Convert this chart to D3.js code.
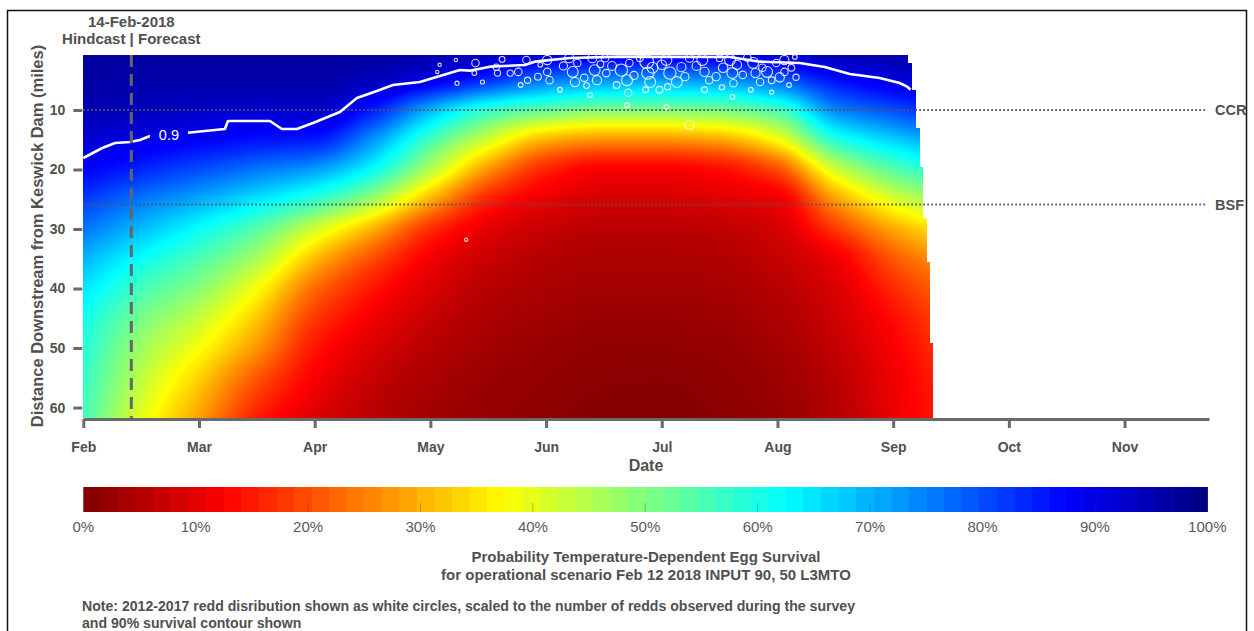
<!DOCTYPE html>
<html><head><meta charset="utf-8">
<script src="https://cdn.jsdelivr.net/npm/d3@7"></script>
<style>
body{margin:0;background:#fff}
svg{display:block}
text{font-family:"Liberation Sans",Arial,Helvetica,sans-serif}
</style>
</head><body>
<svg id="chart" width="1254" height="631"></svg>
<script>
// ---------------- DATA ----------------
const monthLabels = ["Feb","Mar","Apr","May","Jun","Jul","Aug","Sep","Oct","Nov"];
const monthTicks = [0,1,2,3,4,5,6,7,8,9];          // month index, Feb = 0
const mileTicks = [10,20,30,40,50,60];
const colorTicks = [0,10,20,30,40,50,60,70,80,90,100];

// survival grid (%) : one row per gridMonths entry, values along gridMiles
const gridMonths = [0,0.5,1,1.5,2,2.5,3,3.5,4,4.5,5,5.5,6,6.5,7,7.5];
const gridMiles  = [0.8,5,10,15,20,25,30,35,40,45,50,55,62];
const survivalGrid = [
  [97,96.5,95,92,88,82,76,70,65,61,59,57.5,56],
  [97,96,94,90,84,76,69,62,56,51,47,44,40],
  [97,96,93,88,80,71,62,55,49,43,38,33,28],
  [97,96,92,86,76,65,54,46,38,32,27,21,15],
  [97,96,92.5,85,72,58,42,31,23,18,14.5,12,9],
  [97,94,85,73,62,47,30,20,14.5,11.5,9,7,5.5],
  [96,89.5,70,56,45,30,17,11.5,9,7,5.5,4.2,3.2],
  [94,83,58,42,27,16,10,7.2,5.5,4.3,3.4,2.7,2],
  [92,76,53,30,16,10.5,7,5.2,4.2,3.3,2.4,1.8,1.2],
  [91,73,50,27,12,8.5,5.8,4.5,3.5,2.6,1.8,1.2,0.7],
  [91,72,50,27,12,8.5,5.8,4.5,3.5,2.6,1.8,1.1,0.6],
  [91,73,51,29,13.5,9.5,6.3,4.9,3.8,2.9,2.2,1.6,1.1],
  [92,78,56,38,20,11,8.5,6.8,5.5,4.5,3.6,2.9,2.2],
  [95,86,74,59,42,28,18,11,9,7.8,6.6,5.7,5],
  [96,90.3,80,67,54,41,29,21,16.5,13.5,12,11,10.5],
  [97,93,85,73,61,49,37,29,23.5,20.5,18.5,17,16]
];
const riverTopMile = 0.76, riverBottomMile = 61.76;
// end of the modelled season, by distance band
const edgeMiles  = [0.76,2.1,6.6,13.0,19.6,28.2,35.5,49.2,61.76];
const edgeMonths = [7.125,7.16,7.194,7.229,7.255,7.29,7.315,7.341];

// 90% survival contour [month index, mile]
const contour90 = [
  [0,18.07],[0.164,16.39],[0.274,15.55],[0.403,15.38],[0.49,15.04],[0.576,14.37],
  [0.879,13.87],[1.224,13.19],[1.25,11.85],[1.613,11.85],[1.717,13.19],[1.846,13.19],
  [1.985,12.2],[2.218,10.34],[2.365,7.98],[2.537,6.81],[2.676,5.8],[2.909,5.29],
  [3.255,3.28],[3.34,3.39],[3.514,2.72],[3.817,2.44],[3.903,1.88],[4.205,1.26],
  [4.637,1.04],[5.587,1.09],[5.847,1.88],[6.193,2.1],[6.409,2.77],[6.625,3.95],
  [6.884,4.62],[7.056,5.46],[7.125,6.13],[7.15,6.6]
];
const contourLabel = {text:"0.9", month:0.74, mile:14.1};

// redd observations 2012-2017 [month index, mile, redds]
const reddObs = [
  [3.23,5.5,3],[3.39,2.1,10],[3.38,3.8,4],[3.45,5.3,3],[3.57,2.8,7],[3.58,3.8,7],
  [3.69,3.8,7],[3.76,3.6,10],[3.83,1.6,10],[3.84,5.0,7],[4.01,1.6,15],[4.01,3.6,10],
  [4.03,5.0,10],[4.20,1.3,15],[4.23,3.6,21],[4.25,5.3,15],[4.27,2.1,10],[4.40,1.3,15],
  [4.42,3.3,21],[4.44,5.0,15],[4.51,1.3,10],[4.52,3.8,10],[4.65,3.3,27],[4.70,5.0,21],
  [4.72,2.1,10],[4.71,7.1,10],[4.87,1.9,34],[4.88,3.8,27],[4.90,5.3,21],[4.92,2.9,21],
  [5.04,1.6,21],[5.07,3.8,27],[5.13,5.3,21],[5.17,2.8,15],[5.05,6.1,7],[5.24,12.5,15],
  [5.35,1.6,21],[5.37,3.6,15],[5.41,5.0,10],[5.59,1.6,21],[5.61,3.8,21],[5.62,5.5,10],
  [5.65,2.4,15],[5.70,4.1,10],[5.79,2.1,21],[5.81,3.8,15],[5.85,5.3,10],[5.87,2.9,10],
  [5.91,3.6,21],[5.99,2.1,10],[6.02,4.5,15],[6.06,1.6,15],[6.06,3.6,10],[6.15,1.1,4],
  [6.16,4.5,7],[6.10,5.8,4],[5.61,7.8,4],[5.04,9.5,4],[4.70,9.2,4],[3.95,2.4,4],
  [4.12,6.6,4],[4.38,7.5,4],[5.37,6.6,6],[5.77,6.6,4],[3.78,5.8,4],[3.22,1.6,2],
  [3.06,3.6,2],[4.47,2.3,8],[4.81,1.3,8],[5.24,1.3,12],[5.50,1.3,8],[4.61,5.8,8],
  [4.98,6.6,8],[3.31,31.8,2],[3.08,2.4,2],
  [3.62,1.5,6],[3.93,4.4,8],[4.15,2.6,12],[4.33,4.6,10],[4.57,2.6,14],[4.76,4.2,12],
  [5.00,2.4,16],[5.20,4.4,12],[5.30,2.6,14],[5.47,4.4,12],[5.53,2.9,16],[5.74,1.2,10],
  [5.95,5.0,8],[6.12,2.9,8],[4.35,5.9,6],[4.86,6.6,6],[5.52,6.2,5],[5.95,7.0,3]
];
const refLineNames = ["CCR","BSF"];
const refLineMiles = [10,25.9];
const hindcastMonth = 0.415;
const hindcastLabels = ["14-Feb-2018","Hindcast | Forecast"];
const titleLines = ["Probability Temperature-Dependent Egg Survival",
                    "for operational scenario Feb 12 2018 INPUT 90, 50 L3MTO"];
const noteLines = ["Note: 2012-2017 redd disribution shown as white circles, scaled to the number of redds observed during the survey",
                   "and 90% survival contour shown"];

// ---------------- CHART ----------------
const svg = d3.select("#chart");
const TXT = "#505050", AX = "#6a6a6a";

const x = d3.scaleLinear().domain([0, 9.73]).range([83.3, 1209]);
const y = d3.scaleLinear().domain([riverTopMile, riverBottomMile]).range([55, 418]);
const cx = d3.scaleLinear().domain([0, 100]).range([83.3, 1207.3]);
const rScale = d3.scaleSqrt().domain([0, 40]).range([0, 7.5]);

function jet(t){
  const c = v => Math.max(0, Math.min(1, v));
  return [c(1.5-Math.abs(4*t-3)), c(1.5-Math.abs(4*t-2)), c(1.5-Math.abs(4*t-1))];
}
function survivalColor(v){ // v in %
  const [r,g,b] = jet(1 - Math.max(0, Math.min(100, v))/100);
  return [Math.round(r*255), Math.round(g*255), Math.round(b*255)];
}
// monotone cubic (Fritsch-Carlson) interpolator
function monotone(xs, ys){
  const n = xs.length, h = [], d = [], m = new Array(n);
  for (let k = 0; k < n-1; k++){ h[k] = xs[k+1]-xs[k]; d[k] = (ys[k+1]-ys[k])/h[k]; }
  m[0] = d[0]; m[n-1] = d[n-2];
  for (let k = 1; k < n-1; k++){
    if (d[k-1]*d[k] <= 0) m[k] = 0;
    else m[k] = 3*(h[k-1]+h[k]) / ((2*h[k]+h[k-1])/d[k-1] + (h[k]+2*h[k-1])/d[k]);
  }
  return v => {
    let k = d3.bisectRight(xs, v) - 1;
    k = Math.max(0, Math.min(n-2, k));
    const t = Math.max(0, Math.min(1, (v-xs[k])/h[k])), t2 = t*t, t3 = t2*t;
    return (2*t3-3*t2+1)*ys[k] + (t3-2*t2+t)*h[k]*m[k] + (-2*t3+3*t2)*ys[k+1] + (t3-t2)*h[k]*m[k+1];
  };
}
const columnInterp = survivalGrid.map(col => monotone(gridMiles, col));

// heat map raster
const hx0 = Math.floor(x(0)), hy0 = Math.round(y(riverTopMile));
const hx1 = Math.ceil(x(d3.max(edgeMonths))), hy1 = Math.round(y(riverBottomMile));
const cw = hx1 - hx0, ch = hy1 - hy0;
const canvas = document.createElement("canvas");
canvas.width = cw; canvas.height = ch;
const ctx = canvas.getContext("2d");
const img = ctx.createImageData(cw, ch);
for (let py = 0; py < ch; py++){
  const mile = y.invert(hy0 + py + 0.5);
  let band = d3.bisectRight(edgeMiles, mile) - 1;
  band = Math.max(0, Math.min(edgeMonths.length-1, band));
  const endM = edgeMonths[band];
  const rowInterp = monotone(gridMonths, columnInterp.map(f => f(mile)));
  for (let px = 0; px < cw; px++){
    const m = x.invert(hx0 + px + 0.5);
    if (m < 0 || m > endM) continue;
    const [r,g,b] = survivalColor(rowInterp(m));
    const k = (py*cw + px)*4;
    img.data[k]=r; img.data[k+1]=g; img.data[k+2]=b; img.data[k+3]=255;
  }
}
ctx.putImageData(img, 0, 0);
svg.append("image").attr("x", hx0).attr("y", hy0).attr("width", cw).attr("height", ch)
  .attr("preserveAspectRatio","none").attr("href", canvas.toDataURL());

// reference dotted lines
refLineMiles.forEach((mi, k) => {
  svg.append("line").attr("x1", x(0)).attr("x2", 1205)
    .attr("y1", y(mi)).attr("y2", y(mi))
    .attr("stroke", "#555").attr("stroke-width", 2).attr("stroke-dasharray", "1.6,2.4");
  svg.append("text").attr("x", 1215).attr("y", y(mi)).attr("dy", "0.36em")
    .attr("font-size", 14.5).attr("font-weight", "bold").attr("fill", TXT).text(refLineNames[k]);
});

// contour with label gap
const lblX = x(contourLabel.month), lblY = y(contourLabel.mile);
const mask = svg.append("defs").append("mask").attr("id","cmask");
mask.append("rect").attr("x",0).attr("y",0).attr("width",1254).attr("height",631).attr("fill","#fff");
mask.append("rect").attr("x", lblX-19).attr("y", lblY-12).attr("width", 38).attr("height", 24).attr("fill","#000");
svg.append("path").datum(contour90)
  .attr("d", d3.line().x(d => x(d[0])).y(d => y(d[1])))
  .attr("fill","none").attr("stroke","#fff").attr("stroke-width",2.6)
  .attr("stroke-linejoin","round").attr("mask","url(#cmask)");
svg.append("text").attr("x", lblX).attr("y", lblY).attr("dy","0.36em")
  .attr("text-anchor","middle").attr("font-size",14.5).attr("fill","#fff").text(contourLabel.text);

// redd circles
svg.append("g").selectAll("circle").data(reddObs).join("circle")
  .attr("cx", d => x(d[0])).attr("cy", d => y(d[1])).attr("r", d => rScale(d[2]))
  .attr("fill","none").attr("stroke","#fff").attr("stroke-opacity",0.85).attr("stroke-width",1.1);

// hindcast line
svg.append("line").attr("x1", x(hindcastMonth)).attr("x2", x(hindcastMonth))
  .attr("y1", y(riverTopMile)).attr("y2", y(riverBottomMile))
  .attr("stroke", "#666").attr("stroke-width", 3).attr("stroke-dasharray","12,7");
hindcastLabels.forEach((t,i) => {
  svg.append("text").attr("x", x(hindcastMonth)).attr("y", 27 + i*16.5)
    .attr("text-anchor","middle").attr("font-size",15).attr("font-weight","bold")
    .attr("fill", TXT).text(t);
});

// x axis
const xAxis = d3.axisBottom(x).tickValues(monthTicks).tickFormat(i => monthLabels[i])
  .tickSize(9).tickSizeOuter(0);
const gx = svg.append("g").attr("transform", `translate(0,${y(riverBottomMile)+1})`).call(xAxis);
gx.select(".domain").attr("stroke", AX).attr("stroke-width", 3);
gx.selectAll(".tick line").attr("stroke", AX).attr("stroke-width", 3);
gx.selectAll(".tick text").attr("fill", TXT).attr("font-size", 14).attr("font-weight","bold")
  .attr("font-family",'"Liberation Sans",Arial,sans-serif').attr("dy", "1.5em");
svg.append("text").attr("x", 646).attr("y", 471).attr("text-anchor","middle")
  .attr("font-size",16).attr("font-weight","bold").attr("fill",TXT).text("Date");

// y axis (ticks only)
const yAxis = d3.axisLeft(y).tickValues(mileTicks).tickSize(9).tickSizeOuter(0).tickPadding(8);
const gy = svg.append("g").attr("transform", `translate(${x(0)-1},0)`).call(yAxis);
gy.select(".domain").remove();
gy.selectAll(".tick line").attr("stroke", AX).attr("stroke-width", 3);
gy.selectAll(".tick text").attr("fill", TXT).attr("font-size", 14).attr("font-weight","bold")
  .attr("font-family",'"Liberation Sans",Arial,sans-serif');
svg.append("text").attr("transform","translate(43,236) rotate(-90)").attr("text-anchor","middle")
  .attr("font-size",16.5).attr("font-weight","bold").attr("fill",TXT)
  .text("Distance Downstream from Keswick Dam (miles)");

// colour bar
const nBins = 64;
const bins = d3.range(nBins);
svg.append("g").selectAll("rect").data(bins).join("rect")
  .attr("x", i => cx(i*100/nBins)).attr("width", i => cx((i+1)*100/nBins) - cx(i*100/nBins) + 0.6)
  .attr("y", 487).attr("height", 25)
  .attr("fill", i => { const c = survivalColor((i+0.5)*100/nBins); return `rgb(${c})`; });
svg.append("g").selectAll("line").data(colorTicks.slice(1,-1)).join("line")
  .attr("x1", d => cx(d)).attr("x2", d => cx(d)).attr("y1", 503).attr("y2", 512)
  .attr("stroke","#444").attr("stroke-opacity",0.35).attr("stroke-width",1);
svg.append("g").selectAll("text").data(colorTicks).join("text")
  .attr("x", d => cx(d)).attr("y", 532).attr("text-anchor","middle")
  .attr("font-size",15).attr("fill","#5a5a5a").text(d => d + "%");

titleLines.forEach((t,i) => {
  svg.append("text").attr("x", 646).attr("y", 562 + i*18).attr("text-anchor","middle")
    .attr("font-size",15).attr("font-weight","bold").attr("fill",TXT).text(t);
});
noteLines.forEach((t,i) => {
  svg.append("text").attr("x", 82).attr("y", 611 + i*17)
    .attr("font-size",14.1).attr("font-weight","bold").attr("fill",TXT).text(t);
});

// outer frame
svg.append("rect").attr("x",7.5).attr("y",10.5).attr("width",1239).attr("height",640)
  .attr("fill","none").attr("stroke","#111").attr("stroke-width",1.5);
</script>
</body></html>
